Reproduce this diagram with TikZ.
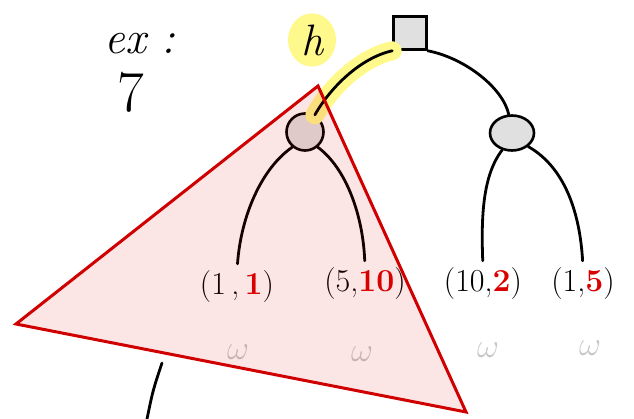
\documentclass[tikz,border=0pt]{standalone}
\usepackage{fix-cm}
\usepackage{fontspec}
\usepackage{xcolor}
\usetikzlibrary{positioning,shapes.geometric}

\tikzset{
  edge/.style={line width=2.8pt,line cap=round},
  inner/.style={draw,line width=2.6pt,fill=black!12},
  leaf/.style={inner sep=0pt,font=\fontsize{32}{32}\selectfont},
  hole/.style={inner sep=0pt,text=black!22,font=\fontsize{34}{34}\selectfont},
  hilite/.style={line width=19pt,line cap=round,draw=yellow!45},
}

\begin{document}
\begin{tikzpicture}[x=1pt,y=-1pt]

  \useasboundingbox (0,0) rectangle (634,419);

  % ---------- tree ----------
  \node[inner,minimum size=33pt,inner sep=0pt] (root) at (410,33) {};
  \node[inner,circle,minimum size=37pt,inner sep=0pt] (a) at (305,132) {};
  \node[inner,ellipse,minimum width=44pt,minimum height=35pt,inner sep=0pt] (b) at (512,133) {};

  \node[leaf] (l1) at (237,287) {(1\,,\,\textcolor{red!85!black}{\bfseries 1})};
  \node[leaf] (l2) at (365,284) {(5,\textcolor{red!85!black}{\bfseries 10})};
  \node[leaf] (l3) at (483,284) {(10,\textcolor{red!85!black}{\bfseries 2})};
  \node[leaf] (l4) at (583,284) {(1,\textcolor{red!85!black}{\bfseries 5})};

  \node[hole] (w1) at (238,352) {$\omega$};
  \node[hole] (w2) at (362,354) {$\omega$};
  \node[hole] (w3) at (488,350) {$\omega$};
  \node[hole] (w4) at (590,348) {$\omega$};

  % highlighted edge and its label
  \node[ellipse,fill=yellow!45,minimum width=48pt,minimum height=52pt,
        font=\fontsize{44}{44}\selectfont\itshape] (hlab) at (312,40) {h};
  \draw[hilite] (root.south west) .. controls (360,58) and (330,88) .. (a.60);

  \draw[edge] (root.south west) .. controls (360,58) and (330,88) .. (a.60);
  \draw[edge] (root.south east) .. controls (465,58) and (503,88) .. (b.100);

  \draw[edge,shorten >=7pt] (a.-130) .. controls (262,168) and (241,215) .. (l1.north);
  \draw[edge,shorten >=7pt] (a.-50) .. controls (346,168) and (363,215) .. (l2.north);
  \draw[edge,shorten >=7pt] (b.-120) .. controls (483,175) and (481,215) .. (l3.north);
  \draw[edge,shorten >=7pt] (b.-40) .. controls (566,168) and (580,215) .. (l4.north);

  % ---------- subtree ----------
  \draw[draw=red!82!black,line width=3pt,fill=red!85!black,fill opacity=0.1,line join=miter]
    (16,324) -- (318,86) -- (466,412) -- cycle;

  % ---------- notes ----------
  \node[font=\fontsize{46}{46}\selectfont\itshape] (ex) at (140,44) {ex :};
  \node[font=\fontsize{58}{58}\selectfont] (seven) at (131,92) {7};
  \draw[edge] (162,363) .. controls (153,390) .. (147,419);

\end{tikzpicture}
\end{document}
